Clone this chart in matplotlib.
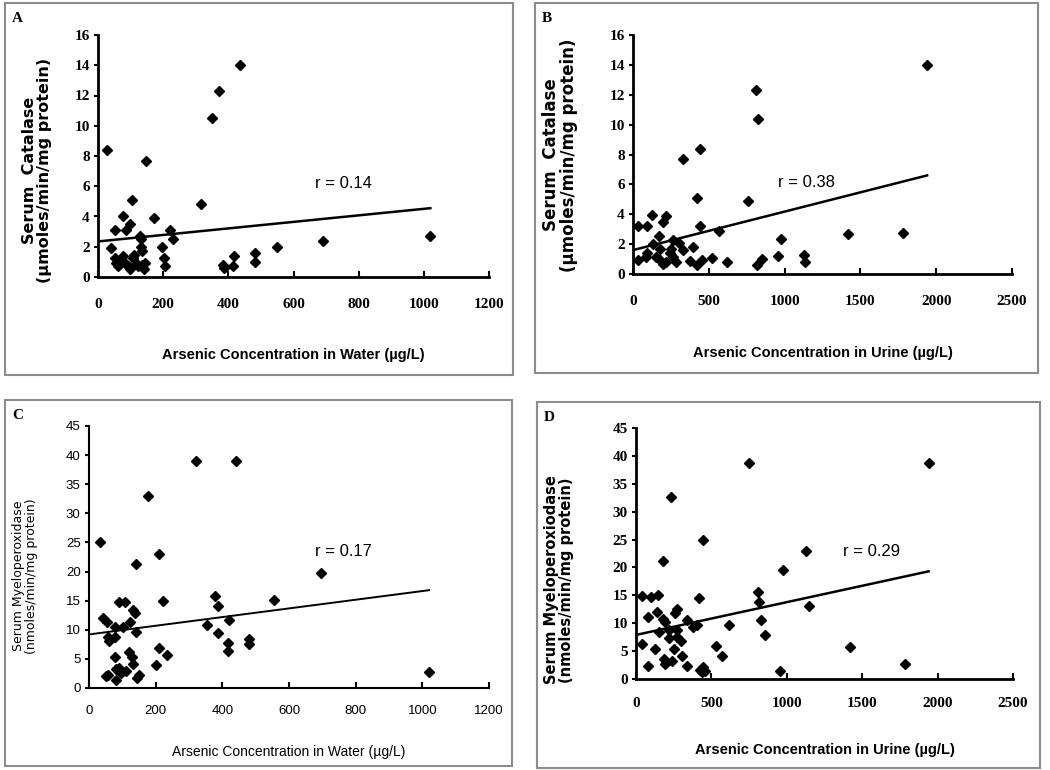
import numpy as np
import matplotlib.pyplot as plt
from matplotlib.patches import Rectangle

# Panel A: catalase vs arsenic in water
a_x = [28, 146, 105, 77, 172, 51, 87, 97, 128, 133, 133, 135, 41, 196, 220, 230, 203, 207,
       51, 56, 61, 71, 77, 84, 92, 97, 107, 112, 118, 123, 136, 140, 143,
       316, 349, 372, 437, 383, 386, 414, 416, 481, 481, 549, 690, 1018]
a_y = [8.4, 7.7, 5.1, 4.0, 3.9, 3.1, 3.1, 3.5, 2.7, 2.5, 2.0, 1.7, 1.9, 2.0, 3.1, 2.5, 1.25, 0.7,
       1.25, 0.9, 0.75, 1.15, 1.4, 0.9, 0.7, 0.5, 1.25, 1.45, 0.9, 0.7, 0.8, 0.5, 0.9,
       4.8, 10.5, 12.3, 14.0, 0.8, 0.6, 0.7, 1.4, 1.6, 1.0, 2.0, 2.4, 2.7]
a_fit_x = [0, 1020]
a_fit_y = [2.35, 4.55]

# Panel B: catalase vs arsenic in urine
b_x = [1939, 811, 824, 445, 330, 419, 760, 445, 568, 33, 95, 126, 220, 198, 172, 132, 264, 304,
       330, 397, 375, 419, 458, 522, 617, 33, 84, 90, 154, 176, 198, 220, 242, 250, 264, 282,
       176, 815, 853, 958, 974, 1128, 1137, 1417, 1778]
b_y = [14.0, 12.3, 10.4, 8.4, 7.7, 5.1, 4.9, 3.2, 2.9, 3.2, 3.2, 3.95, 3.85, 3.5, 2.55, 2.0, 2.3, 2.1,
       1.6, 1.8, 0.9, 0.6, 0.95, 1.1, 0.8, 0.95, 1.15, 1.4, 1.15, 0.95, 0.7, 0.8, 1.4, 1.7, 1.15, 0.8,
       1.7, 0.6, 1.0, 1.2, 2.35, 1.25, 0.8, 2.65, 2.75]
b_fit_x = [0, 1940]
b_fit_y = [1.6, 6.6]

# Panel C: myeloperoxidase vs arsenic in water
c_x = [34, 322, 440, 178, 209, 142, 696, 222, 554, 377, 387, 420, 354, 387, 417, 417, 480, 480,
       210, 235, 200, 1020, 42, 55, 58, 60, 77, 77, 89, 108, 102, 124, 132, 137, 140,
       77, 120, 130, 132, 52, 58, 82, 90, 82, 97, 110, 145, 150]
c_y = [25.0, 39.0, 39.0, 33.0, 23.1, 21.3, 19.7, 14.9, 15.2, 15.8, 14.0, 11.7, 10.9, 9.5, 7.7, 6.3, 8.5, 7.5,
       6.9, 5.6, 4.0, 2.75, 12.0, 11.3, 8.8, 8.1, 10.5, 8.8, 14.8, 14.8, 10.4, 11.3, 13.4, 12.9, 9.6,
       5.4, 6.2, 5.3, 4.2, 2.0, 2.3, 3.3, 3.5, 1.3, 2.5, 3.0, 1.8, 2.2]
c_fit_x = [0, 1020]
c_fit_y = [9.2, 16.8]

# Panel D: myeloperoxidase vs arsenic in urine
d_x = [752, 1940, 230, 447, 177, 1128, 978, 1144, 810, 818, 827, 856, 619, 529, 567, 418, 1416, 956, 1785,
       38, 38, 82, 100, 144, 137, 126, 82, 155, 177, 195, 186, 190, 221, 221, 237, 252, 259, 270, 274,
       270, 299, 307, 336, 336, 380, 403, 425, 447, 458, 436]
d_y = [38.8, 38.8, 32.6, 24.9, 21.1, 23.0, 19.6, 13.1, 15.6, 13.8, 10.6, 7.8, 9.6, 6.0, 4.1, 14.5, 5.7, 1.4, 2.7,
       14.8, 6.2, 11.2, 14.7, 15.0, 12.1, 5.4, 2.4, 8.4, 10.8, 10.2, 3.5, 2.6, 8.8, 7.4, 3.2, 5.3, 11.8, 12.6, 8.8,
       7.6, 6.9, 4.1, 2.3, 10.6, 9.3, 9.7, 1.7, 2.2, 1.4, 1.2]
d_fit_x = [0, 1940]
d_fit_y = [7.9, 19.3]

panels = [
    # letter, x, y, fit x, fit y, xmax, xstep, ymax, ystep, r text, r pos, xlabel, ylabel, bold
    ('A', a_x, a_y, a_fit_x, a_fit_y, 1200, 200, 16, 2, 'r = 0.14', (666, 6.2),
     'Arsenic Concentration in Water (µg/L)', 'Serum  Catalase\n(µmoles/min/mg protein)', True),
    ('B', b_x, b_y, b_fit_x, b_fit_y, 2500, 500, 16, 2, 'r = 0.38', (956, 6.1),
     'Arsenic Concentration in Urine (µg/L)', 'Serum  Catalase\n(µmoles/min/mg protein)', True),
    ('C', c_x, c_y, c_fit_x, c_fit_y, 1200, 200, 45, 5, 'r = 0.17', (678, 23.4),
     'Arsenic Concentration in Water (µg/L)', 'Serum Myeloperoxidase\n(nmoles/min/mg protein)', False),
    ('D', d_x, d_y, d_fit_x, d_fit_y, 2500, 500, 45, 5, 'r = 0.29', (1373, 22.8),
     'Arsenic Concentration in Urine (µg/L)', 'Serum Myeloperoxiodase\n(nmoles/min/mg protein)', True),
]

W, H = 1050, 770
fig = plt.figure(figsize=(10.5, 7.7), dpi=100)

# boxes around panels (pixels: left, top, right, bottom)
boxes = [(5, 3, 513, 375), (535, 3, 1038, 373), (5, 400, 512, 766), (537, 402, 1040, 768)]
# axes rectangles in pixels (left, top, right, bottom)
axes_px = [(98, 35, 489, 277), (633, 35, 1012, 274), (89, 426, 489, 688), (636, 428, 1013, 679)]
xlabel_y = [355, 353, 752, 750]
ylabel_pos = [(37, 170), (560, 155), (25, 576), (559, 580)]
ylabel_size = [11.5, 12, 9, 10.5]
xtick_pad = [15, 15, 12, 13]

for i, p in enumerate(panels):
    (letter, xs, ys, fx, fy, xmax, xstep, ymax, ystep, rtxt, rpos, xl, yl, bold) = p
    l, t, r, b = boxes[i]
    fig.patches.append(Rectangle((l / W, 1 - b / H), (r - l) / W, (b - t) / H,
                                 transform=fig.transFigure, fill=False,
                                 edgecolor='#8c8c8c', linewidth=1.5))
    fig.text((l + 7) / W, 1 - (t + 16) / H, letter, family='Liberation Serif',
             fontweight='bold', fontsize=11, va='center', ha='left')

    al, at, ar, ab = axes_px[i]
    ax = fig.add_axes([al / W, 1 - ab / H, (ar - al) / W, (ab - at) / H])
    ax.plot(xs, ys, 'D', color='black', markersize=4.8, linestyle='none')
    ax.plot(fx, fy, color='black', linewidth=1.8 if bold else 1.4)
    ax.text(rpos[0], rpos[1], rtxt, family='Liberation Sans', fontsize=12,
            ha='left', va='center')
    ax.set_xlim(0, xmax)
    ax.set_ylim(0, ymax)
    ax.set_xticks(np.arange(0, xmax + 1, xstep))
    ax.set_yticks(np.arange(0, ymax + 1, ystep))
    for s in ['top', 'right']:
        ax.spines[s].set_visible(False)
    for s in ['left', 'bottom']:
        ax.spines[s].set_linewidth(2 if bold else 1.5)
    ax.tick_params(axis='x', direction='in', length=4, width=1.5, pad=xtick_pad[i])
    ax.tick_params(axis='y', direction='out', length=3, width=1.5, pad=3)
    fw = 'bold' if bold else 'normal'
    for lab in ax.get_xticklabels() + ax.get_yticklabels():
        if bold:
            lab.set_family('Liberation Serif')
            lab.set_fontsize(11)
        else:
            lab.set_family('Liberation Sans')
            lab.set_fontsize(9.5)
        lab.set_fontweight(fw)
    # axis titles placed in figure pixels
    fig.text(((al + ar) / 2) / W, 1 - xlabel_y[i] / H, xl, family='Liberation Sans',
             fontweight=fw, fontsize=10.5 if bold else 10, ha='center', va='center')
    yx, yy = ylabel_pos[i]
    fig.text(yx / W, 1 - yy / H, yl, family='DejaVu Sans',
             fontweight=fw, fontsize=ylabel_size[i], rotation=90,
             ha='center', va='center', linespacing=1.0)

fig.savefig('out.png', dpi=100)
